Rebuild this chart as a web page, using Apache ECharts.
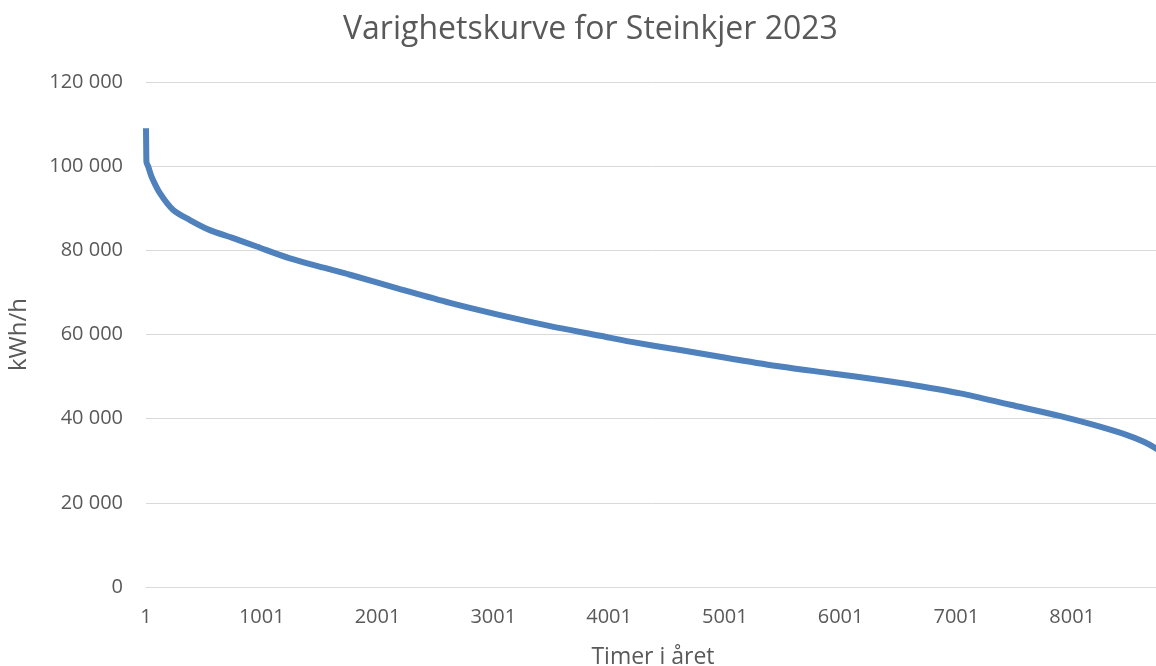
<!DOCTYPE html>
<html>
<head>
<meta charset="utf-8">
<script src="https://cdn.jsdelivr.net/npm/echarts@6/dist/echarts.min.js"></script>
<style>
  html, body { margin: 0; padding: 0; background: #fff; }
  #chart { width: 1156px; height: 666px; }
</style>
</head>
<body>
<div id="chart"></div>
<script>
// hour of the year (sorted by load, 1-based) and load at that rank
var hours = [1, 3, 5, 20, 49, 121, 236, 380, 553, 755, 957, 1244, 1561, 1763, 2195, 2627, 3060, 3492, 3924, 4183, 4616, 5048, 5480, 5912, 6344, 6603, 7035, 7468, 7900, 8188, 8476, 8620, 8721, 8760]
var load = [109000, 104000, 101000, 99900, 97500, 93600, 89600, 87200, 84800, 82900, 80900, 78100, 75700, 74200, 70800, 67500, 64600, 62000, 59700, 58300, 56300, 54300, 52400, 50800, 49200, 48100, 46000, 43300, 40600, 38500, 36100, 34500, 33000, 32200]
var yTicks = [0, 20000, 40000, 60000, 80000, 100000, 120000]

var font = 'Open Sans'
var grey = '#595959'

function spaced(v) {
    return String(v).replace(/\B(?=(\d{3})+(?!\d))/g, ' ')
}

var chart = echarts.init(document.getElementById('chart'))
chart.setOption({
    animation: false,
    title: {
        text: 'Varighetskurve for Steinkjer 2023',
        left: 343,
        top: 14,
        padding: 0,
        textStyle: { fontFamily: font, fontSize: 32, fontWeight: 'normal', color: grey }
    },
    grid: {
        left: 146,
        top: 82,
        bottom: 79,
        right: -4,
        containLabel: false,
        outerBoundsMode: 'none'
    },
    xAxis: {
        type: 'value',
        min: 0,
        max: 8759,
        interval: 1000,
        name: 'Timer i året',
        nameLocation: 'middle',
        nameGap: 59,
        nameTextStyle: { fontFamily: font, fontSize: 23, color: grey },
        axisLine: { show: true, lineStyle: { color: '#D9D9D9', width: 1 } },
        axisTick: { show: false },
        splitLine: { show: false },
        axisLabel: {
            margin: 20,
            showMaxLabel: false,
            fontFamily: font, fontSize: 20, color: grey,
            formatter: function (v) { return String(v + 1) }
        }
    },
    yAxis: {
        type: 'value',
        min: yTicks[0],
        max: yTicks[yTicks.length - 1],
        interval: yTicks[1] - yTicks[0],
        name: 'kWh/h',
        nameLocation: 'middle',
        nameGap: 115,
        nameTextStyle: { fontFamily: font, fontSize: 24, color: grey },
        axisLine: { show: false },
        axisTick: { show: false },
        splitLine: { lineStyle: { color: '#D9D9D9', width: 1 } },
        axisLabel: {
            margin: 23,
            fontFamily: font, fontSize: 20, color: grey,
            formatter: spaced
        }
    },
    series: [{
        type: 'line',
        symbol: 'none',
        smooth: 0.3,
        lineStyle: { color: '#4F81BD', width: 6 },
        data: hours.map(function (h, i) { return [h - 1, load[i]] })
    }]
})
</script>
</body>
</html>
